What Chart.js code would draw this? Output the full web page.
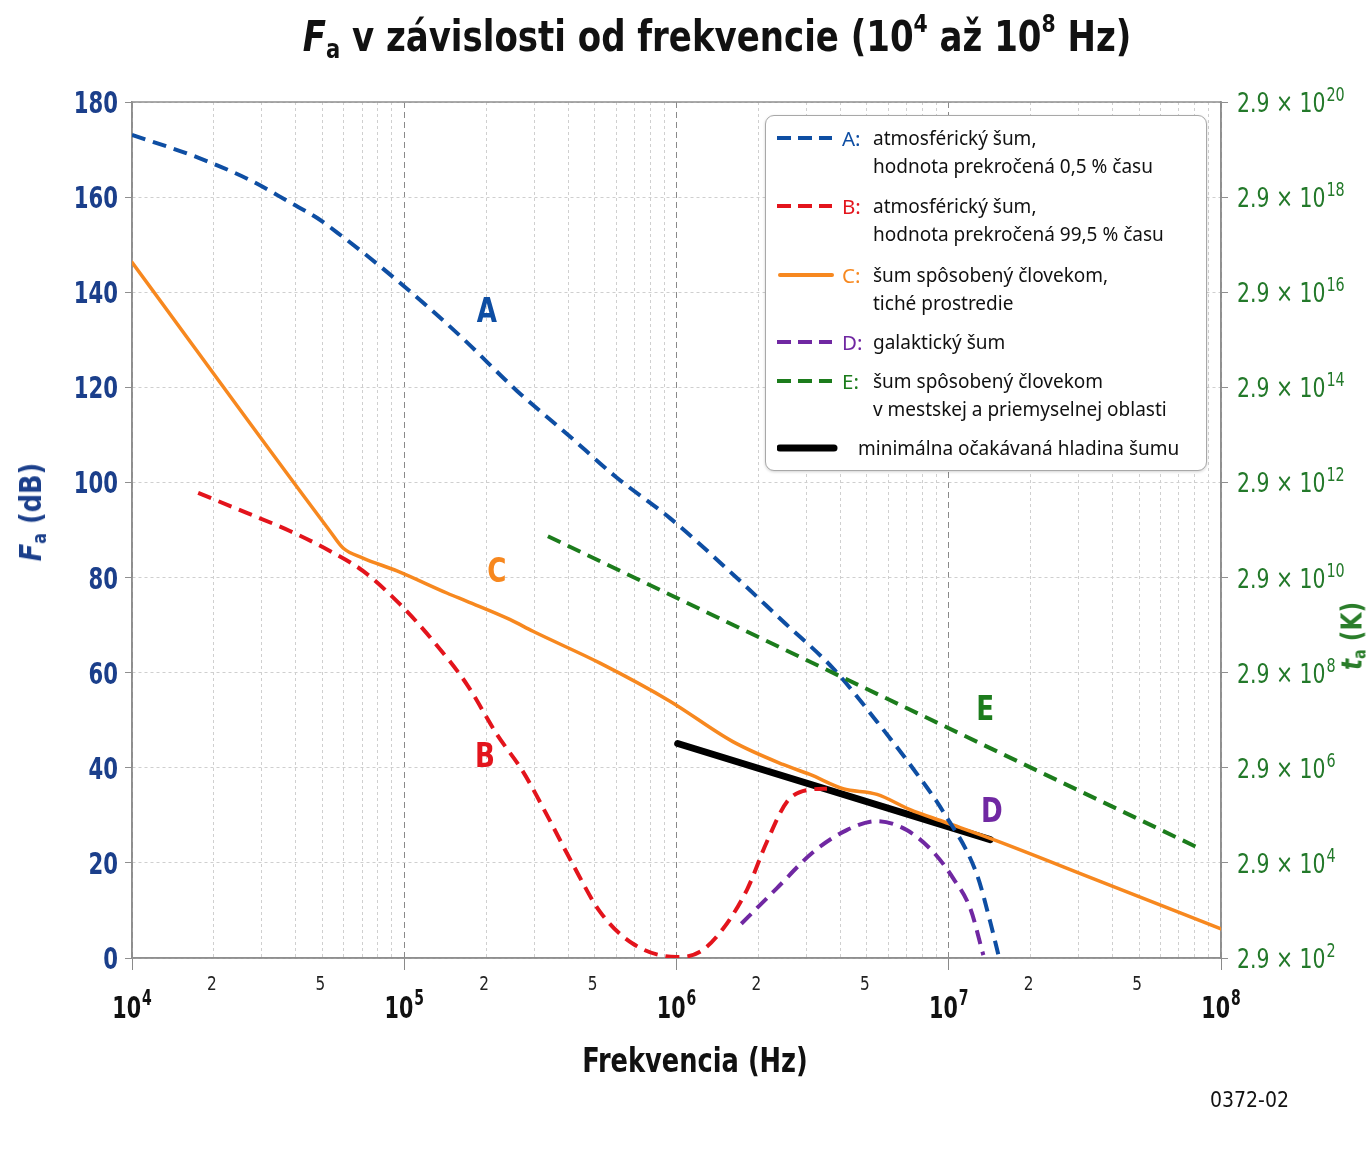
<!DOCTYPE html>
<html lang="sk">
<head>
<meta charset="utf-8">
<title>Fa v závislosti od frekvencie</title>
<script src="https://cdn.jsdelivr.net/npm/chart.js@4.4.1/dist/chart.umd.min.js"></script>
<style>
  body { margin: 0; background: #fff; }
  #wrap { position: relative; width: 1369px; height: 1149px; overflow: hidden;
          font-family: 'Liberation Sans Narrow', 'DejaVu Sans Condensed', sans-serif; }
  #c { position: absolute; left: 0; top: 0; }
  .title { position: absolute; left: 717px; top: 12px; transform: translateX(-50%) scaleX(0.9); white-space: nowrap;
           font-weight: bold; font-size: 42px; color: #111; }
  .title sup { font-size: 0.6em; vertical-align: 0.75em; line-height: 0; }
  .title sub, .ytitle sub { font-size: 0.62em; vertical-align: -0.25em; line-height: 0; }
  .ytitle { position: absolute; transform: translate(-50%, -50%) rotate(-90deg) scaleX(0.92); white-space: nowrap;
            font-weight: bold; }
  .xtitle { position: absolute; left: 695px; top: 1040px; transform: translateX(-50%) scaleX(0.84); white-space: nowrap;
            font-weight: bold; font-size: 34px; color: #111; }
  .code { position: absolute; left: 1210px; top: 1088px; font-size: 21px; color: #111; }
  .legend { position: absolute; left: 765px; top: 115px; width: 440px; height: 354px;
            border: 1.5px solid #a8a8a8; border-radius: 9px; background: #fff;
            box-shadow: 0 1px 3px rgba(0,0,0,0.18); }
  .row { position: absolute; font-family: 'Noto Sans', sans-serif; font-size: 19px; line-height: 28px; color: #111; }
  .row svg { position: absolute; left: 0; top: 0; }
  .row .key { position: absolute; left: 65px; top: 0; font-size: 20.5px; }
  .row .txt { position: absolute; left: 96px; top: 0; white-space: nowrap; }
</style>
</head>
<body>
<div id="wrap">
  <canvas id="c" width="1369" height="1149"></canvas>
  <div class="title"><i>F</i><sub>a</sub> v závislosti od frekvencie (10<sup>4</sup> až 10<sup>8</sup> Hz)</div>
  <div class="ytitle" style="left:30px; top:512px; color:#1b3f8b; font-size:31px;"><i>F</i><sub>a</sub> (dB)</div>
  <div class="ytitle" style="left:1352px; top:636px; color:#2a7d2a; font-size:28px;"><i>t</i><sub>a</sub> (K)</div>
  <div class="xtitle">Frekvencia (Hz)</div>
  <div class="code">0372-02</div>
  <div class="legend"></div>
  <div id="legendRows"></div>
</div>
<script>
// Curve A: atmosférický šum, 0,5 % času
const freqA = [1e4, 1.73e4, 2.71e4, 3.8e4, 4.79e4, 5.96e4, 7.48e4, 9.4e4, 1.24e5, 1.64e5, 2.59e5, 3.96e5,
               6.04e5, 9.46e5, 1.61e6, 2.46e6, 3.76e6, 5.45e6, 7.4e6, 9.53e6, 1.27e7, 1.42e7, 1.52e7];
const levelA = [173.1, 168.4, 163.6, 158.9, 155.6, 151.6, 147.2, 142.5, 136.6, 130.3, 119.3, 110.2,
                101.0, 92.5, 80.7, 70.8, 60.9, 49.7, 39.8, 30.8, 17.5, 7.6, 0.8];

// Curve B: atmosférický šum, 99,5 % času
const freqB = [1.75e4, 2.64e4, 3.8e4, 5.33e4, 7.05e4, 9.64e4, 1.28e5, 1.7e5, 2.19e5, 2.73e5, 3.34e5,
               4.17e5, 5.24e5, 6.92e5, 1.0e6, 1.22e6, 1.48e6, 1.82e6, 2.15e6, 2.55e6, 3.09e6, 3.57e6];
const levelB = [97.8, 93.6, 89.8, 85.6, 81.4, 74.4, 66.6, 57.5, 47.0, 39.2, 30.1,
                19.6, 9.7, 3.0, 0.2, 1.3, 6.1, 14.5, 24.5, 32.9, 35.4, 35.6];

// Curve C: šum spôsobený človekom, tiché prostredie
const freqC = [1e4, 5.33e4, 5.96e4, 7.05e4, 9.4e4, 1.44e5, 1.7e5, 2.44e5, 2.97e5, 5.24e5, 9.46e5,
               1.61e6, 2.46e6, 3.09e6, 4.09e6, 5.45e6, 7.21e6, 9.53e6, 1.46e7, 3.39e7, 1e8];
const levelC = [146.3, 89.8, 86.2, 84.1, 81.4, 76.7, 75.0, 71.2, 68.7, 62.0, 54.0,
                45.5, 40.7, 38.6, 35.6, 34.4, 31.2, 28.7, 24.9, 16.7, 6.1];

// Curve D: galaktický šum
const freqD = [1.73e6, 2.33e6, 3.18e6, 4.22e6, 5.43e6, 7.01e6, 8.77e6, 1.04e7, 1.2e7, 1.34e7];
const levelD = [7.2, 14.6, 22.3, 26.9, 28.8, 26.9, 22.3, 16.7, 10.4, 0.6];

// Curve E: mestská a priemyselná oblasť
const freqE = [3.37e5, 8.37e7];
const levelE = [88.7, 23.0];

// minimálna očakávaná hladina šumu
const freqMin = [1.01e6, 1.42e7];
const levelMin = [45.1, 24.9];

// curve letters
const markText = ['A', 'B', 'C', 'D', 'E'];
const markFreq = [2.01e5, 1.98e5, 2.19e5, 1.44e7, 1.36e7];
const markLevel = [135.5, 42, 80.9, 30.4, 51.9];
const markColor = ['#0e4ea3', '#e3141c', '#f7881f', '#7028a2', '#1c7c1c'];

// axes
const yTicks = [0, 20, 40, 60, 80, 100, 120, 140, 160, 180];
const decadeExp = [4, 5, 6, 7, 8];

// legend
const legendKeys = ['A:', 'B:', 'C:', 'D:', 'E:', ''];
const legendText = [
  ['atmosférický šum,', 'hodnota prekročená 0,5 % času'],
  ['atmosférický šum,', 'hodnota prekročená 99,5 % času'],
  ['šum spôsobený človekom,', 'tiché prostredie'],
  ['galaktický šum'],
  ['šum spôsobený človekom', 'v mestskej a priemyselnej oblasti'],
  ['minimálna očakávaná hladina šumu']
];
const legendColor = ['#0e4ea3', '#e3141c', '#f7881f', '#7028a2', '#1c7c1c', '#000'];
const legendTop = [124, 192, 261, 328, 367, 434];

const narrow = "'Liberation Sans Narrow', 'DejaVu Sans Condensed', sans-serif";

function pts(fs, vs) {
  return fs.map((f, i) => ({ x: f, y: vs[i] }));
}

// x ticks: 1..9 x 10^n
const xTicks = [];
decadeExp.forEach(e => {
  if (e < 8) {
    for (let m = 1; m <= 9; m++) xTicks.push(m * Math.pow(10, e));
  } else {
    xTicks.push(Math.pow(10, e));
  }
});

function isDecade(v) {
  const e = Math.round(Math.log10(v));
  return Math.abs(v - Math.pow(10, e)) < 1e-6 * v;
}

// text squeezed horizontally (no narrow font installed)
function squeezeText(ctx, s, x, y, sx, align) {
  const w = ctx.measureText(s).width * sx;
  let left = x;
  if (align === 'center') left = x - w / 2;
  if (align === 'right') left = x - w;
  ctx.save();
  ctx.translate(left, y);
  ctx.scale(sx, 1);
  ctx.textAlign = 'left';
  ctx.fillText(s, 0, 0);
  ctx.restore();
  return w;
}

function drawPower(ctx, base, exp, x, y, font, expFont, align, raise, sx) {
  ctx.font = font;
  const wb = ctx.measureText(base).width * sx;
  ctx.font = expFont;
  const we = ctx.measureText(exp).width * sx;
  let start = x;
  if (align === 'center') start = x - (wb + we + 1) / 2;
  ctx.font = font;
  squeezeText(ctx, base, start, y, sx, 'left');
  ctx.font = expFont;
  squeezeText(ctx, exp, start + wb + 1, y - raise, sx, 'left');
}

const frame = {
  id: 'frame',
  beforeDatasetsDraw(chart) {
    const { ctx, chartArea: a } = chart;
    ctx.save();
    ctx.strokeStyle = '#8f8f8f';
    ctx.lineWidth = 1.5;
    ctx.strokeRect(a.left, a.top, a.right - a.left, a.bottom - a.top);
    ctx.restore();
  }
};

const tickText = {
  id: 'tickText',
  afterDraw(chart) {
    const { ctx, scales } = chart;
    const x = scales.x, y = scales.y, y2 = scales.y2;
    ctx.save();
    ctx.textBaseline = 'alphabetic';
    x.ticks.forEach(t => {
      const v = t.value;
      const e = Math.round(Math.log10(v) - 0.3);
      const m = Math.round(v / Math.pow(10, e));
      const px = x.getPixelForValue(v);
      if (isDecade(v)) {
        ctx.fillStyle = '#111';
        drawPower(ctx, '10', String(Math.round(Math.log10(v))), px, 1018,
          'bold 31px ' + narrow, 'bold 21px ' + narrow, 'center', 13, 0.74);
      } else if (m === 2 || m === 5) {
        ctx.fillStyle = '#222';
        ctx.font = '20px ' + narrow;
        squeezeText(ctx, String(m), px - 2, 990, 0.85, 'center');
      }
    });
    ctx.fillStyle = '#1b3f8b';
    ctx.font = 'bold 31px ' + narrow;
    y.ticks.forEach(t => {
      squeezeText(ctx, String(t.value), 118, y.getPixelForValue(t.value) + 11, 0.76, 'right');
    });
    ctx.fillStyle = '#23792a';
    y2.ticks.forEach(t => {
      const py = y2.getPixelForValue(t.value);
      drawPower(ctx, '2.9 × 10', String(t.value / 10 + 2), 1237, py + 10,
        '27px ' + narrow, '19px ' + narrow, 'left', 11, 0.84);
    });
    ctx.restore();
  }
};

const letters = {
  id: 'letters',
  afterDatasetsDraw(chart) {
    const { ctx, scales: { x, y } } = chart;
    ctx.save();
    ctx.font = 'bold 33px ' + narrow;
    ctx.textBaseline = 'middle';
    markText.forEach((s, i) => {
      ctx.fillStyle = markColor[i];
      squeezeText(ctx, s, x.getPixelForValue(markFreq[i]), y.getPixelForValue(markLevel[i]), 0.88, 'center');
    });
    ctx.restore();
  }
};

function lineSet(label, data, color, width, dash) {
  return {
    label: label,
    data: data,
    borderColor: color,
    borderWidth: width,
    borderDash: dash,
    borderCapStyle: dash.length ? 'butt' : 'round',
    pointRadius: 0,
    fill: false,
    cubicInterpolationMode: 'monotone'
  };
}

const ctx = document.getElementById('c').getContext('2d');
new Chart(ctx, {
  type: 'line',
  data: {
    datasets: [
      lineSet('E', pts(freqE, levelE), '#1c7c1c', 4, [14, 8]),
      lineSet('A', pts(freqA, levelA), '#0e4ea3', 4, [14, 8]),
      lineSet('B', pts(freqB, levelB), '#e3141c', 4, [14, 8]),
      lineSet('D', pts(freqD, levelD), '#7028a2', 4, [14, 8]),
      lineSet('C', pts(freqC, levelC), '#f7881f', 3.5, []),
      lineSet('min', pts(freqMin, levelMin), '#000', 7, [])
    ]
  },
  options: {
    responsive: false,
    animation: false,
    layout: { padding: { top: 102, left: 0, right: 0, bottom: 0 } },
    plugins: {
      legend: { display: false },
      title: { display: false },
      tooltip: { enabled: false }
    },
    scales: {
      x: {
        type: 'logarithmic',
        min: 1e4,
        max: 1e8,
        afterBuildTicks: s => { s.ticks = xTicks.map(v => ({ value: v })); },
        afterFit: s => { s.height = 1149 - 958; },
        ticks: { display: false },
        grid: {
          color: c => (c.tick && isDecade(c.tick.value)) ? '#8a8a8a' : '#cfcfcf',
          lineWidth: 1,
          tickLength: 12,
          tickColor: c => (c.tick && isDecade(c.tick.value)) ? '#8a8a8a' : 'rgba(0,0,0,0)'
        },
        border: {
          color: '#8f8f8f',
          width: 1.5,
          dash: c => (c.tick && isDecade(c.tick.value)) ? [6, 4] : [3, 3]
        }
      },
      y: {
        min: 0,
        max: 180,
        afterBuildTicks: s => { s.ticks = yTicks.map(v => ({ value: v })); },
        afterFit: s => { s.width = 132; },
        ticks: { display: false },
        grid: { color: '#cfcfcf', tickLength: 7, tickColor: '#8f8f8f' },
        border: { color: '#8f8f8f', width: 1.5, dash: [3, 3] }
      },
      y2: {
        position: 'right',
        min: 0,
        max: 180,
        afterBuildTicks: s => { s.ticks = yTicks.map(v => ({ value: v })); },
        afterFit: s => { s.width = 1369 - 1221; },
        ticks: { display: false },
        grid: { drawOnChartArea: false, tickLength: 7, tickColor: '#8f8f8f' },
        border: { color: '#8f8f8f', width: 1.5 }
      }
    }
  },
  plugins: [frame, letters, tickText]
});

// legend rows (HTML)
const rows = document.getElementById('legendRows');
legendText.forEach((lines, i) => {
  const r = document.createElement('div');
  r.className = 'row';
  r.style.left = '777px';
  r.style.top = legendTop[i] + 'px';
  r.style.width = '425px';
  r.style.height = (lines.length * 28) + 'px';
  const isMin = legendKeys[i] === '';
  const dash = isMin || i === 2 ? '' : 'stroke-dasharray="14 7"';
  const w = isMin ? 7 : 4;
  const x2 = isMin ? 57 : 55;
  const cap = isMin || i === 2 ? 'round' : 'butt';
  r.innerHTML = '<svg width="62" height="28"><line x1="' + (cap === 'round' ? 3 : 0) + '" y1="14" x2="' + x2 +
    '" y2="14" stroke="' + legendColor[i] + '" stroke-width="' + w + '" stroke-linecap="' + cap + '" ' + dash + '/></svg>' +
    (isMin ? '' : '<span class="key" style="color:' + legendColor[i] + '">' + legendKeys[i] + '</span>') +
    '<span class="txt" style="left:' + (isMin ? 81 : 96) + 'px">' + lines.join('<br>') + '</span>';
  rows.appendChild(r);
});
</script>
</body>
</html>
